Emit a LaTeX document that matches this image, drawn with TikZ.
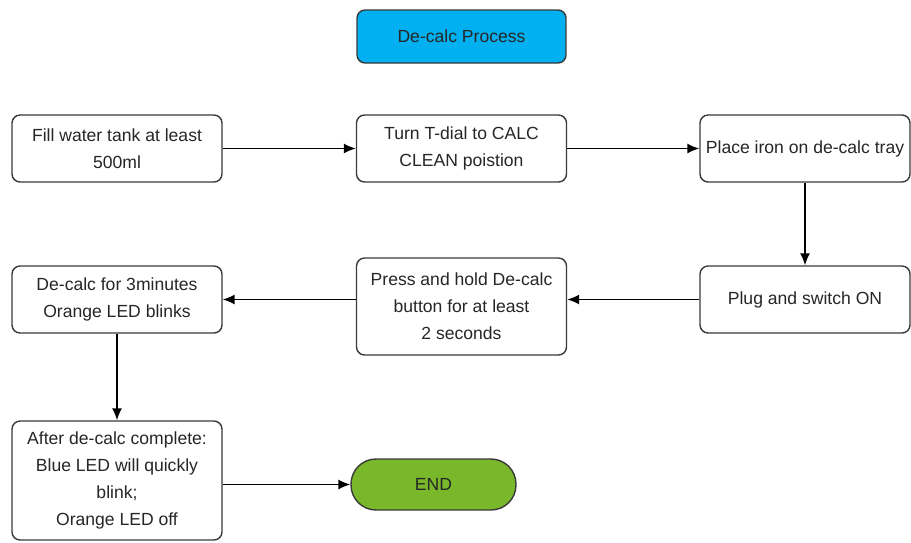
\documentclass[tikz,border=0pt]{standalone}
\usepackage{fontspec}
\setmainfont{Liberation Sans}
\usepackage{tikz}
\usetikzlibrary{positioning,arrows.meta}

\definecolor{titleblue}{HTML}{00B0F0}
\definecolor{endgreen}{HTML}{78B82A}
\definecolor{boxline}{HTML}{3A3A3A}

\tikzset{
    stepbox/.style={draw=boxline,line width=0.8pt,rounded corners=0.16cm,fill=white,
        minimum width=4.2cm,minimum height=1.34cm,align=center,inner sep=2pt},
    titlebox/.style={stepbox,fill=titleblue,minimum width=4.18cm,minimum height=1.06cm},
    endbox/.style={draw=boxline,line width=0.8pt,rounded corners=0.5cm,fill=endgreen,
        minimum width=3.3cm,minimum height=1.02cm},
    flow/.style={-{Latex[length=2.4mm,width=2mm]},line width=0.85pt,black}
}

\begin{document}
\begin{tikzpicture}[x=0.02cm,y=-0.02cm,
        every node/.style={font=\fontsize{10}{15.3}\selectfont,text=black!85}]
    \useasboundingbox (0,0) rectangle (911,542);

    % title
    \node[titlebox] (title) at (461.5,36.5) {De-calc Process};

    % first row
    \node[stepbox] (fill) at (117,148.5) {Fill water tank at least\\500ml};
    \node[stepbox] (dial) at (461.5,148.5) {Turn T-dial to CALC\\CLEAN poistion};
    \node[stepbox] (tray) at (805,148.5) {Place iron on de-calc tray};

    % second row
    \node[stepbox] (plug) at (805,299.5) {Plug and switch ON};
    \node[stepbox,minimum height=1.94cm] (press) at (461.5,306.5)
        {Press and hold De-calc\\button for at least\\2 seconds};
    \node[stepbox] (decalc) at (117,299.5) {De-calc for 3minutes\\Orange LED blinks};

    % last row
    \node[stepbox,minimum height=2.38cm] (after) at (117,480.5)
        {After de-calc complete:\\Blue LED will quickly\\blink;\\Orange LED off};
    \node[endbox] (end) at (433.5,484.5) {END};

    % connectors
    \draw[flow] (fill) -- (dial);
    \draw[flow] (dial) -- (tray);
    \draw[flow] (tray) -- (plug);
    \draw[flow] (plug.west) -- (plug.west -| press.east);
    \draw[flow] (press.west |- decalc.east) -- (decalc.east);
    \draw[flow] (decalc) -- (after);
    \draw[flow] (after.east |- end.west) -- (end.west);
\end{tikzpicture}
\end{document}
